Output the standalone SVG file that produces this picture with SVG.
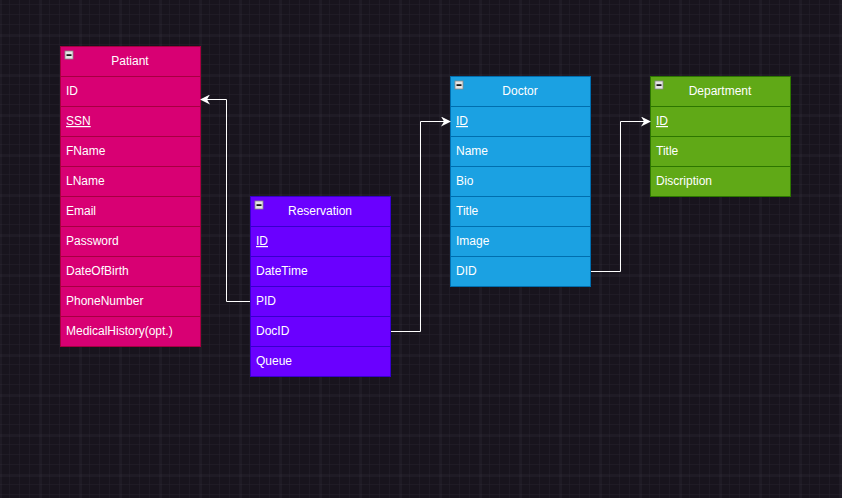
<svg xmlns="http://www.w3.org/2000/svg" width="842" height="498" viewBox="0 0 842 498">
<defs>
<pattern id="minor" width="10" height="10" patternUnits="userSpaceOnUse" x="0" y="5">
<path d="M10 0V10M0 10H10" fill="none" stroke="#25212b" stroke-width="1"/>
</pattern>
<pattern id="major" width="40" height="40" patternUnits="userSpaceOnUse" x="0.5" y="35.5">
<path d="M0 0V40M0 0H40" fill="none" stroke="#36323c" stroke-width="1"/>
</pattern>
<marker id="arr" viewBox="0 0 10 10" refX="9" refY="5" markerWidth="10" markerHeight="10" markerUnits="userSpaceOnUse" orient="auto">
<path d="M0 0L10 5L0 10L3 5Z" fill="#ffffff"/>
</marker>
<g id="icon"><rect x="0" y="0" width="8" height="8" fill="#e6e6e6" stroke="#888" stroke-width="0.8"/><rect x="1.5" y="3.3" width="5" height="1.6" fill="#000"/></g>
</defs>
<style>
text{font-family:"Liberation Sans",Arial,sans-serif;font-size:12px;fill:#ffffff}
.h{text-anchor:middle}
.u{text-decoration:underline}
.pink rect.b{fill:#d80073;stroke:#a50040}
.pink line{stroke:#a50040}
.purp rect.b{fill:#6a00ff;stroke:#3700cc}
.purp line{stroke:#3700cc}
.blue rect.b{fill:#1ba1e2;stroke:#006eaf}
.blue line{stroke:#006eaf}
.green rect.b{fill:#60a917;stroke:#2d7600}
.green line{stroke:#2d7600}
.conn path{fill:none;stroke:#ffffff;stroke-width:1;marker-end:url(#arr)}
</style>
<rect width="842" height="498" fill="#18141d"/>
<rect width="842" height="498" fill="url(#minor)"/>
<rect width="842" height="498" fill="url(#major)"/>

<g id="patiant" class="pink">
<rect class="b" x="60.5" y="46.5" width="140" height="300"/>
<line x1="60.5" y1="76.5" x2="200.5" y2="76.5"/>
<line x1="60.5" y1="106.5" x2="200.5" y2="106.5"/>
<line x1="60.5" y1="136.5" x2="200.5" y2="136.5"/>
<line x1="60.5" y1="166.5" x2="200.5" y2="166.5"/>
<line x1="60.5" y1="196.5" x2="200.5" y2="196.5"/>
<line x1="60.5" y1="226.5" x2="200.5" y2="226.5"/>
<line x1="60.5" y1="256.5" x2="200.5" y2="256.5"/>
<line x1="60.5" y1="286.5" x2="200.5" y2="286.5"/>
<line x1="60.5" y1="316.5" x2="200.5" y2="316.5"/>
<use href="#icon" x="65" y="51"/>
<text class="h" x="130" y="65">Patiant</text>
<text x="66" y="95">ID</text>
<text x="66" y="125" class="u">SSN</text>
<text x="66" y="155">FName</text>
<text x="66" y="185">LName</text>
<text x="66" y="215">Email</text>
<text x="66" y="245">Password</text>
<text x="66" y="275">DateOfBirth</text>
<text x="66" y="305">PhoneNumber</text>
<text x="66" y="335">MedicalHistory(opt.)</text>
</g>

<g id="reservation" class="purp">
<rect class="b" x="250.5" y="196.5" width="140" height="180"/>
<line x1="250.5" y1="226.5" x2="390.5" y2="226.5"/>
<line x1="250.5" y1="256.5" x2="390.5" y2="256.5"/>
<line x1="250.5" y1="286.5" x2="390.5" y2="286.5"/>
<line x1="250.5" y1="316.5" x2="390.5" y2="316.5"/>
<line x1="250.5" y1="346.5" x2="390.5" y2="346.5"/>
<use href="#icon" x="255" y="201"/>
<text class="h" x="320" y="215">Reservation</text>
<text x="256" y="245" class="u">ID</text>
<text x="256" y="275">DateTime</text>
<text x="256" y="305">PID</text>
<text x="256" y="335">DocID</text>
<text x="256" y="365">Queue</text>
</g>

<g id="doctor" class="blue">
<rect class="b" x="450.5" y="76.5" width="140" height="210"/>
<line x1="450.5" y1="106.5" x2="590.5" y2="106.5"/>
<line x1="450.5" y1="136.5" x2="590.5" y2="136.5"/>
<line x1="450.5" y1="166.5" x2="590.5" y2="166.5"/>
<line x1="450.5" y1="196.5" x2="590.5" y2="196.5"/>
<line x1="450.5" y1="226.5" x2="590.5" y2="226.5"/>
<line x1="450.5" y1="256.5" x2="590.5" y2="256.5"/>
<use href="#icon" x="455" y="81"/>
<text class="h" x="520" y="95">Doctor</text>
<text x="456" y="125" class="u">ID</text>
<text x="456" y="155">Name</text>
<text x="456" y="185">Bio</text>
<text x="456" y="215">Title</text>
<text x="456" y="245">Image</text>
<text x="456" y="275">DID</text>
</g>

<g id="department" class="green">
<rect class="b" x="650.5" y="76.5" width="140" height="120"/>
<line x1="650.5" y1="106.5" x2="790.5" y2="106.5"/>
<line x1="650.5" y1="136.5" x2="790.5" y2="136.5"/>
<line x1="650.5" y1="166.5" x2="790.5" y2="166.5"/>
<use href="#icon" x="655" y="81"/>
<text class="h" x="720" y="95">Department</text>
<text x="656" y="125" class="u">ID</text>
<text x="656" y="155">Title</text>
<text x="656" y="185">Discription</text>
</g>

<g id="connectors" class="conn">
<path d="M250 301.5H226.5V99.5H201"/>
<path d="M391 331.5H420.5V121.5H450"/>
<path d="M591 271.5H620.5V121.5H650"/>
</g>
</svg>
